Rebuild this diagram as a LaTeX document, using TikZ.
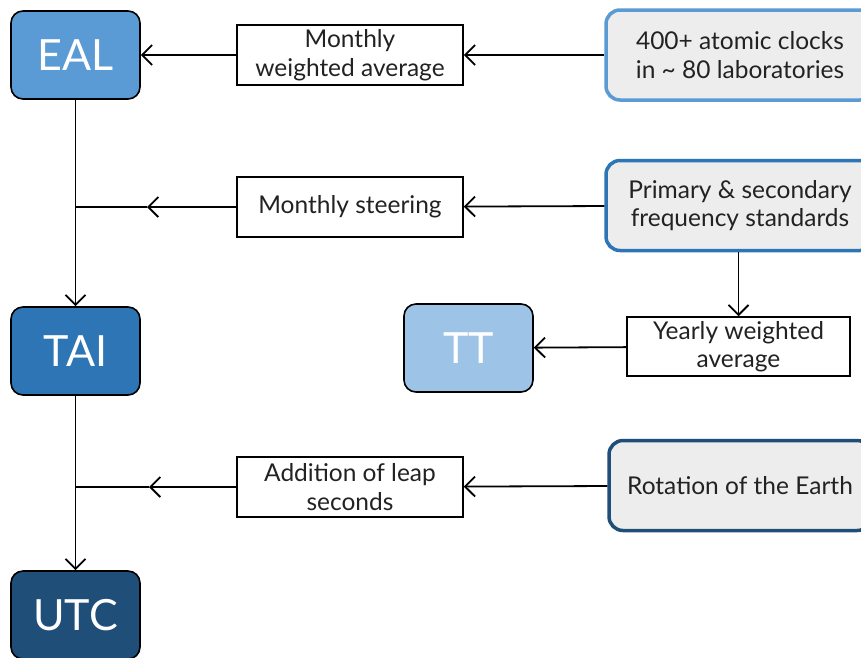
\documentclass[tikz,border=0pt]{standalone}
\usepackage{fontspec}
\setmainfont{Lato}
\usetikzlibrary{arrows.meta}

\definecolor{ealblue}{HTML}{5B9BD5}
\definecolor{taiblue}{HTML}{2E75B6}
\definecolor{utcblue}{HTML}{1F4E79}
\definecolor{ttblue}{HTML}{9DC3E6}
\definecolor{srcgray}{HTML}{EDEDED}
\definecolor{txtgray}{HTML}{222222}

\tikzset{
    timescale/.style={draw=black, line width=1.6pt, rounded corners=12pt,
        minimum width=129pt, minimum height=88pt, inner sep=0pt,
        text=white, font=\fontsize{43}{43}\selectfont},
    stepbox/.style={draw=black, line width=1.5pt, fill=white,
        minimum width=226pt, minimum height=60pt, inner sep=0pt, align=center,
        text=txtgray, font=\fontsize{24.5}{28.5}\selectfont},
    source/.style={line width=3.5pt, fill=srcgray, rounded corners=14pt,
        minimum height=90pt, inner sep=0pt, align=center,
        text=txtgray, font=\fontsize{24.5}{28.5}\selectfont},
    flow/.style={line width=1.8pt, -{Straight Barb[length=10pt,width=20pt,line width=1.8pt]}}
}

\begin{document}
\begin{tikzpicture}[x=1pt,y=-1pt]
    \useasboundingbox[fill=white] (0,0) rectangle (861,657);

    % --- TIME SCALES (LEFT COLUMN) ---
    \node[timescale, fill=ealblue] (eal) at (75.5,55) {EAL};
    \node[timescale, fill=taiblue] (tai) at (75.5,351) {TAI};
    \node[timescale, fill=utcblue] (utc) at (75.5,615) {UTC};
    \node[timescale, fill=ttblue] (tt) at (468.5,348) {TT};

    % --- PROCESSING STEPS ---
    \node[stepbox] (average) at (350,55) {Monthly\\weighted average};
    \node[stepbox] (steering) at (350,207) {Monthly steering};
    \node[stepbox] (leap) at (350,487) {Addition of leap\\seconds};
    \node[stepbox, minimum width=223pt, minimum height=59pt] (yearly) at (738.5,346.5) {Yearly weighted\\average};

    % --- INPUTS (RIGHT COLUMN) ---
    \node[source, draw=ealblue, minimum width=268pt] (clocks) at (740,55) {400+ atomic clocks\\in \textasciitilde{} 80 laboratories};
    \node[source, draw=taiblue, minimum width=268pt] (standards) at (740,205.5) {Primary \& secondary\\frequency standards};
    \node[source, draw=utcblue, minimum width=262pt] (earth) at (740,485.5) {Rotation of the Earth};

    % --- CONNECTORS ---
    \coordinate (jsteer) at (eal.south |- steering);
    \coordinate (jleap) at (tai.south |- leap);
    \coordinate (tsteer) at (147,207);
    \coordinate (tleap) at (149,487);

    \draw[flow] (clocks) -- (average);
    \draw[flow] (average) -- (eal);
    \draw[flow] (eal) -- (tai);
    \draw[flow] (standards) -- (steering);
    \draw[flow] (steering) -- (tsteer);
    \draw[line width=1.8pt] (tsteer) -- (jsteer);
    \draw[flow] (standards.south -| yearly.north) -- (yearly);
    \draw[flow] (yearly) -- (tt);
    \draw[flow] (earth) -- (leap);
    \draw[flow] (leap) -- (tleap);
    \draw[line width=1.8pt] (tleap) -- (jleap);
    \draw[flow] (tai) -- (utc);
\end{tikzpicture}
\end{document}
